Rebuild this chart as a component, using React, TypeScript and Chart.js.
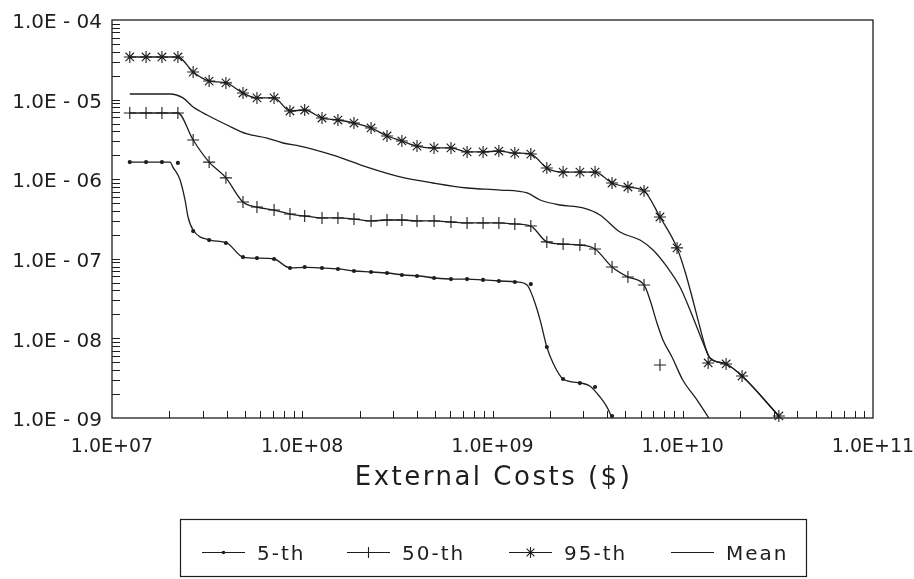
import React, { useEffect, useRef } from "react";
import { Chart, registerables } from "chart.js";

Chart.register(...registerables);

const INK = "#1e1e1e";

// Cost grid (US$) at which the percentile markers are plotted
const costs = [
  1.24e7, 1.51e7, 1.83e7, 2.22e7, 2.67e7, 3.24e7, 3.97e7, 4.88e7, 5.78e7, 7.11e7,
  8.62e7, 1.03e8, 1.27e8, 1.54e8, 1.87e8, 2.3e8, 2.79e8, 3.34e8, 4.01e8, 4.93e8,
  6.05e8, 7.35e8, 8.92e8, 1.08e9, 1.31e9, 1.59e9, 1.93e9, 2.35e9, 2.88e9, 3.46e9,
  4.25e9, 5.15e9, 6.26e9, 7.59e9, 9.33e9, 1.13e10, 1.36e10, 1.69e10, 2.05e10, 2.49e10,
  3.2e10,
];

const seriesNames = ["5-th", "50-th", "95-th", "Mean"];

// Marker values (exceedance frequency) on the cost grid
const p95Marks = [
  3.43e-5, 3.43e-5, 3.43e-5, 3.43e-5, 2.22e-5, 1.71e-5, 1.62e-5, 1.21e-5, 1.05e-5, 1.05e-5,
  7.19e-6, 7.4e-6, 5.87e-6, 5.54e-6, 5.08e-6, 4.4e-6, 3.49e-6, 3.02e-6, 2.61e-6, 2.47e-6,
  2.47e-6, 2.2e-6, 2.2e-6, 2.26e-6, 2.13e-6, 2.07e-6, 1.38e-6, 1.23e-6, 1.23e-6, 1.23e-6,
  8.96e-7, 7.98e-7, 7.11e-7, 3.35e-7, 1.37e-7, null, 4.91e-9, 4.77e-9, 3.37e-9, null,
  1.06e-9,
];
const p50Marks = [
  6.79e-6, 6.79e-6, 6.79e-6, 6.79e-6, 3.11e-6, 1.64e-6, 1.04e-6, 5.17e-7, 4.47e-7, 4.1e-7,
  3.65e-7, 3.45e-7, 3.26e-7, 3.26e-7, 3.16e-7, 2.99e-7, 3.07e-7, 3.07e-7, 2.99e-7, 2.99e-7,
  2.9e-7, 2.82e-7, 2.82e-7, 2.82e-7, 2.74e-7, 2.58e-7, 1.63e-7, 1.53e-7, 1.49e-7, 1.33e-7,
  7.89e-8, 5.91e-8, 4.69e-8, 4.63e-9, null, null, null, null, null, null,
  null,
];
const p05Marks = [
  1.64e-6, 1.64e-6, 1.64e-6, 1.6e-6, 2.23e-7, 1.72e-7, 1.58e-7, 1.05e-7, 1.02e-7, 9.94e-8,
  7.66e-8, 7.89e-8, 7.66e-8, 7.45e-8, 7.03e-8, 6.83e-8, 6.63e-8, 6.26e-8, 6.08e-8, 5.74e-8,
  5.57e-8, 5.57e-8, 5.42e-8, 5.26e-8, 5.11e-8, 4.82e-8, 7.8e-9, 3.09e-9, 2.75e-9, 2.45e-9,
  1.06e-9, null, null, null, null, null, null, null, null, null,
  null,
];

// Smoothed curves
const p95LineX = [
  1.24e7, 1.51e7, 1.83e7, 2.22e7, 2.67e7, 3.24e7, 3.97e7, 4.88e7, 5.78e7, 7.11e7,
  8.62e7, 1.03e8, 1.27e8, 1.54e8, 1.87e8, 2.3e8, 2.79e8, 3.34e8, 4.01e8, 4.93e8,
  6.05e8, 7.35e8, 8.92e8, 1.08e9, 1.31e9, 1.59e9, 1.93e9, 2.35e9, 2.88e9, 3.46e9,
  4.25e9, 5.15e9, 6.26e9, 7.59e9, 9.33e9, 1.03e10, 1.13e10, 1.23e10, 1.33e10, 1.39e10,
  1.69e10, 2.05e10, 3.2e10,
];
const p95LineY = [
  3.43e-5, 3.43e-5, 3.43e-5, 3.43e-5, 2.22e-5, 1.71e-5, 1.62e-5, 1.21e-5, 1.05e-5, 1.05e-5,
  7.19e-6, 7.4e-6, 5.87e-6, 5.54e-6, 5.08e-6, 4.4e-6, 3.49e-6, 3.02e-6, 2.61e-6, 2.47e-6,
  2.47e-6, 2.2e-6, 2.2e-6, 2.26e-6, 2.13e-6, 2.07e-6, 1.38e-6, 1.23e-6, 1.23e-6, 1.23e-6,
  8.96e-7, 7.98e-7, 7.11e-7, 3.35e-7, 1.37e-7, 6.83e-8, 3.04e-8, 1.39e-8, 7.15e-9, 5.67e-9,
  4.77e-9, 3.37e-9, 1.06e-9,
];
const p50LineX = [
  1.24e7, 1.51e7, 1.83e7, 2.22e7, 2.67e7, 3.24e7, 3.97e7, 4.88e7, 5.78e7, 7.11e7,
  8.62e7, 1.03e8, 1.27e8, 1.54e8, 1.87e8, 2.3e8, 2.79e8, 3.34e8, 4.01e8, 4.93e8,
  6.05e8, 7.35e8, 8.92e8, 1.08e9, 1.31e9, 1.59e9, 1.93e9, 2.35e9, 2.88e9, 3.46e9,
  4.25e9, 5.15e9, 6.26e9, 6.73e9, 7.32e9, 7.87e9, 8.78e9, 1.0e10, 1.19e10, 1.37e10,
];
const p50LineY = [
  6.79e-6, 6.79e-6, 6.79e-6, 6.79e-6, 3.11e-6, 1.64e-6, 1.04e-6, 5.17e-7, 4.47e-7, 4.1e-7,
  3.65e-7, 3.45e-7, 3.26e-7, 3.26e-7, 3.16e-7, 2.99e-7, 3.07e-7, 3.07e-7, 2.99e-7, 2.99e-7,
  2.9e-7, 2.82e-7, 2.82e-7, 2.82e-7, 2.74e-7, 2.58e-7, 1.63e-7, 1.53e-7, 1.49e-7, 1.33e-7,
  7.89e-8, 5.91e-8, 4.69e-8, 3.04e-8, 1.56e-8, 9.55e-9, 5.84e-9, 3.0e-9, 1.68e-9, 1.0e-9,
];
const p05LineX = [
  1.24e7, 2.02e7, 2.09e7, 2.28e7, 2.42e7, 2.51e7, 2.67e7, 3.28e7, 4.02e7, 4.88e7,
  5.85e7, 7.11e7, 8.62e7, 1.06e8, 1.27e8, 1.54e8, 1.87e8, 2.3e8, 2.79e8, 3.39e8,
  4.11e8, 4.99e8, 6.13e8, 7.43e8, 8.92e8, 1.1e9, 1.33e9, 1.52e9, 1.63e9, 1.78e9,
  1.93e9, 2.08e9, 2.35e9, 2.92e9, 3.25e9, 3.67e9, 4.0e9, 4.25e9,
];
const p05LineY = [
  1.64e-6, 1.64e-6, 1.42e-6, 9.77e-7, 5.48e-7, 3.35e-7, 2.3e-7, 1.72e-7, 1.58e-7, 1.05e-7,
  1.02e-7, 9.94e-8, 7.7e-8, 7.8e-8, 7.66e-8, 7.45e-8, 7.03e-8, 6.83e-8, 6.63e-8, 6.26e-8,
  6.08e-8, 5.74e-8, 5.57e-8, 5.57e-8, 5.42e-8, 5.26e-8, 5.11e-8, 4.69e-8, 3.31e-8, 1.7e-8,
  7.8e-9, 4.91e-9, 3.09e-9, 2.75e-9, 2.52e-9, 1.84e-9, 1.37e-9, 1.0e-9,
];
const meanLineX = [
  1.24e7, 2.02e7, 2.36e7, 2.67e7, 3.16e7, 4.02e7, 5.13e7, 6.53e7, 7.92e7, 9.73e7,
  1.45e8, 2.19e8, 3.27e8, 4.87e8, 7.35e8, 1.1e9, 1.52e9, 1.78e9, 2.26e9, 2.99e9,
  3.67e9, 4.68e9, 5.96e9, 6.98e9, 8.27e9, 9.67e9, 1.13e10, 1.28e10, 1.39e10, 1.69e10,
  2.05e10, 3.2e10,
];
const meanLineY = [
  1.175e-5, 1.175e-5, 1.05e-5, 8.07e-6, 6.4e-6, 4.8e-6, 3.7e-6, 3.29e-6, 2.85e-6, 2.61e-6,
  2.01e-6, 1.42e-6, 1.07e-6, 8.96e-7, 7.75e-7, 7.31e-7, 6.71e-7, 5.48e-7, 4.74e-7, 4.35e-7,
  3.55e-7, 2.17e-7, 1.72e-7, 1.29e-7, 7.89e-8, 4.42e-8, 1.86e-8, 8.75e-9, 5.67e-9, 4.77e-9,
  3.37e-9, 1.06e-9,
];

// Axis ticks
const xTickValues = [1e7, 1e8, 1e9, 1e10, 1e11];
const xTickLabels = ["1.0E+07", "1.0E+08", "1.0E+09", "1.0E+10", "1.0E+11"];
const yTickValues = [1e-9, 1e-8, 1e-7, 1e-6, 1e-5, 1e-4];
const yTickLabels = ["1.0E - 09", "1.0E - 08", "1.0E - 07", "1.0E - 06", "1.0E - 05", "1.0E - 04"];
const xTitle = "External Costs ($)";

const toPoints = (xs: number[], ys: (number | null)[]) =>
  xs.map((x, i) => ({ x, y: ys[i] })).filter((p) => p.y !== null) as { x: number; y: number }[];

function drawMarker(ctx: CanvasRenderingContext2D, style: string, cx: number, cy: number, r: number) {
  ctx.beginPath();
  if (style === "circle") {
    ctx.arc(cx, cy, r, 0, Math.PI * 2);
    ctx.fill();
    return;
  }
  if (style === "cross" || style === "star") {
    ctx.moveTo(cx - r, cy);
    ctx.lineTo(cx + r, cy);
    ctx.moveTo(cx, cy - r);
    ctx.lineTo(cx, cy + r);
  }
  if (style === "star") {
    const d = r * Math.SQRT1_2;
    ctx.moveTo(cx - d, cy - d);
    ctx.lineTo(cx + d, cy + d);
    ctx.moveTo(cx - d, cy + d);
    ctx.lineTo(cx + d, cy - d);
  }
  ctx.stroke();
}

const framePlugin = {
  id: "frameAndLegend",
  afterDraw(chart: any) {
    const { ctx, chartArea, scales } = chart;
    const { left, right, top, bottom } = chartArea;
    const xs = scales.x;
    const ys = scales.y;
    ctx.save();
    ctx.strokeStyle = INK;
    ctx.fillStyle = INK;
    // frame
    ctx.lineWidth = 1.3;
    ctx.strokeRect(left, top, right - left, bottom - top);
    // inward minor/major ticks
    ctx.lineWidth = 1;
    ctx.beginPath();
    for (let e = 7; e <= 10; e++) {
      for (let m = 1; m <= 9; m++) {
        if (e === 7 && m === 1) continue;
        const px = Math.round(xs.getPixelForValue(m * Math.pow(10, e))) + 0.5;
        ctx.moveTo(px, bottom);
        ctx.lineTo(px, bottom - 7);
      }
    }
    for (let e = -9; e <= -5; e++) {
      for (let m = 1; m <= 9; m++) {
        if (e === -9 && m === 1) continue;
        const py = Math.round(ys.getPixelForValue(m * Math.pow(10, e))) + 0.5;
        ctx.moveTo(left, py);
        ctx.lineTo(left + 8, py);
      }
    }
    ctx.stroke();

    // axis title
    ctx.font = '26px "DejaVu Sans"';
    (ctx as any).letterSpacing = "2.5px";
    ctx.textAlign = "center";
    ctx.textBaseline = "middle";
    ctx.fillText(xTitle, (left + right) / 2 + 1, 478);

    // legend
    ctx.lineWidth = 1.2;
    ctx.strokeRect(180.5, 519.5, 626, 57);
    const starts = [202, 347, 509, 671];
    const legendSets = chart.data.datasets.filter((d: any) => d.legendStyle);
    ctx.font = '20px "DejaVu Sans"';
    (ctx as any).letterSpacing = "2px";
    ctx.textAlign = "left";
    legendSets.forEach((d: any, i: number) => {
      const sx = starts[i];
      const ly = 552.5;
      ctx.lineWidth = 1.2;
      ctx.beginPath();
      ctx.moveTo(sx, ly);
      ctx.lineTo(sx + 43, ly);
      ctx.stroke();
      if (d.legendStyle !== "none") {
        ctx.lineWidth = 1.1;
        drawMarker(ctx, d.legendStyle, sx + 21.5, ly, d.legendStyle === "circle" ? 1.8 : 5.5);
      }
      ctx.fillText(d.label, sx + 55, 555);
    });
    ctx.restore();
  },
};

export default function App() {
  const ref = useRef<HTMLCanvasElement>(null);
  useEffect(() => {
    document.body.style.margin = "0";
    const lineDs = (label: string, xs: number[], ys: number[], legendStyle: string | null) => ({
      label,
      data: toPoints(xs, ys),
      showLine: true,
      borderColor: INK,
      borderWidth: 1.3,
      pointRadius: 0,
      cubicInterpolationMode: "monotone",
      fill: false,
      clip: false,
      legendStyle,
    });
    const markDs = (label: string, ys: (number | null)[], style: string, r: number) => ({
      label,
      data: toPoints(costs, ys),
      showLine: false,
      pointStyle: style,
      pointRadius: r,
      borderColor: INK,
      backgroundColor: INK,
      borderWidth: style === "circle" ? 0 : 1.1,
      clip: false,
    });
    const chart = new Chart(ref.current!, {
      type: "scatter",
      data: {
        datasets: [
          lineDs(seriesNames[0], p05LineX, p05LineY, "circle"),
          lineDs(seriesNames[1], p50LineX, p50LineY, "cross"),
          lineDs(seriesNames[2], p95LineX, p95LineY, "star"),
          lineDs(seriesNames[3], meanLineX, meanLineY, "none"),
          markDs(seriesNames[0], p05Marks, "circle", 2.1),
          markDs(seriesNames[1], p50Marks, "cross", 6),
          markDs(seriesNames[2], p95Marks, "star", 6),
        ] as any,
      },
      options: {
        responsive: false,
        animation: false,
        events: [],
        layout: { padding: { top: 20, right: 41, left: 0, bottom: 0 } },
        plugins: { legend: { display: false }, tooltip: { enabled: false } },
        scales: {
          x: {
            type: "logarithmic",
            min: 1e7,
            max: 1e11,
            grid: { display: false, drawTicks: false },
            border: { display: false },
            afterBuildTicks: (s: any) => {
              s.ticks = xTickValues.map((value) => ({ value }));
            },
            afterFit: (s: any) => {
              s.height = 161;
              s.paddingLeft = 0;
              s.paddingRight = 0;
            },
            ticks: {
              autoSkip: false,
              maxRotation: 0,
              padding: 18,
              color: INK,
              font: { family: '"DejaVu Sans"', size: 19 },
              callback: (_v: any, i: number) => xTickLabels[i],
            },
          },
          y: {
            type: "logarithmic",
            min: 1e-9,
            max: 1e-4,
            grid: { display: false, drawTicks: false },
            border: { display: false },
            afterBuildTicks: (s: any) => {
              s.ticks = yTickValues.map((value) => ({ value }));
            },
            afterFit: (s: any) => {
              s.width = 112;
              s.paddingTop = 0;
              s.paddingBottom = 0;
            },
            ticks: {
              autoSkip: false,
              padding: 10,
              labelOffset: 3,
              color: INK,
              font: { family: '"DejaVu Sans"', size: 20 },
              callback: (_v: any, i: number) => yTickLabels[i],
            },
          },
        },
      } as any,
      plugins: [framePlugin],
    });
    return () => chart.destroy();
  }, []);
  return (
    <div style={{ width: 914, height: 579, background: "#fff" }}>
      <canvas ref={ref} width={914} height={579} style={{ display: "block" }} />
    </div>
  );
}
